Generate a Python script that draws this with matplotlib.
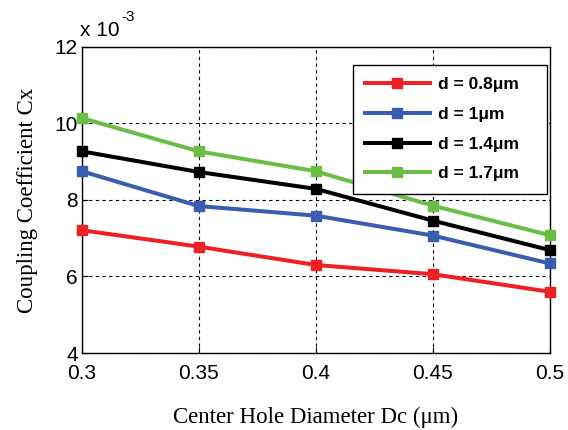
import matplotlib
matplotlib.use("Agg")
import matplotlib.pyplot as plt

# Data (Coupling coefficient in units of 1e-3)
dc = [0.30, 0.35, 0.40, 0.45, 0.50]
labels = ["d = 0.8\u03bcm", "d = 1\u03bcm", "d = 1.4\u03bcm", "d = 1.7\u03bcm"]
cx_08 = [7.21, 6.78, 6.30, 6.06, 5.60]
cx_10 = [8.75, 7.84, 7.59, 7.07, 6.34]
cx_14 = [9.27, 8.73, 8.29, 7.46, 6.69]
cx_17 = [10.14, 9.27, 8.75, 7.85, 7.08]
series = [cx_08, cx_10, cx_14, cx_17]
colors = ["#EE2024", "#3A5DAE", "#000000", "#6BBD45"]
xticks = [0.3, 0.35, 0.4, 0.45, 0.5]
xticklabels = ["0.3", "0.35", "0.4", "0.45", "0.5"]
yticks = [4, 6, 8, 10, 12]

fig = plt.figure(figsize=(5.68, 4.30), dpi=100)
ax = fig.add_axes([0.144, 0.179, 0.824, 0.712])

for vals, lab, col in zip(series, labels, colors):
    ax.plot(dc, vals, color=col, lw=2.9, marker="s", ms=7.5,
            markeredgecolor=col, markerfacecolor=col, label=lab, clip_on=False, zorder=3)

ax.set_xlim(0.3, 0.5)
ax.set_ylim(4, 12)
ax.set_xticks(xticks)
ax.set_xticklabels(xticklabels)
ax.set_yticks(yticks)
ax.tick_params(direction="in", length=4, width=0.8, labelsize=15, colors="black")
ax.tick_params(axis="x", pad=8)
ax.tick_params(axis="y", pad=3)
for lab in ax.get_xticklabels() + ax.get_yticklabels():
    lab.set_fontfamily("Liberation Sans")
ax.grid(True, color="black", linestyle=(0, (3, 3)), linewidth=0.8)
for s in ax.spines.values():
    s.set_linewidth(1.0)

ax.set_xlabel("Center Hole Diameter Dc (\u03bcm)", fontfamily="Liberation Serif",
              fontsize=16.5, labelpad=17)
ax.set_ylabel("Coupling Coefficient Cx", fontfamily="Liberation Serif",
              fontsize=16.5, labelpad=12)

fig.text(80 / 568, 1 - 36 / 430, "x 10", fontfamily="Liberation Sans", fontsize=15,
         ha="left", va="baseline")
fig.text(121 / 568, 1 - 21 / 430, "-3", fontfamily="Liberation Sans", fontsize=11,
         ha="left", va="baseline")

leg = ax.legend(loc="upper left", bbox_to_anchor=(0.579, 0.0, 0.415, 0.941),
                mode="expand",
                prop={"family": "Liberation Sans", "weight": "bold", "size": 12.5},
                frameon=True, fancybox=False, edgecolor="black", framealpha=1,
                handlelength=3.75, labelspacing=0.84, borderpad=0.7, handletextpad=0.46,
                borderaxespad=0)
leg.get_frame().set_linewidth(1.0)
leg.set_zorder(5)

fig.savefig("out.png", dpi=100)
